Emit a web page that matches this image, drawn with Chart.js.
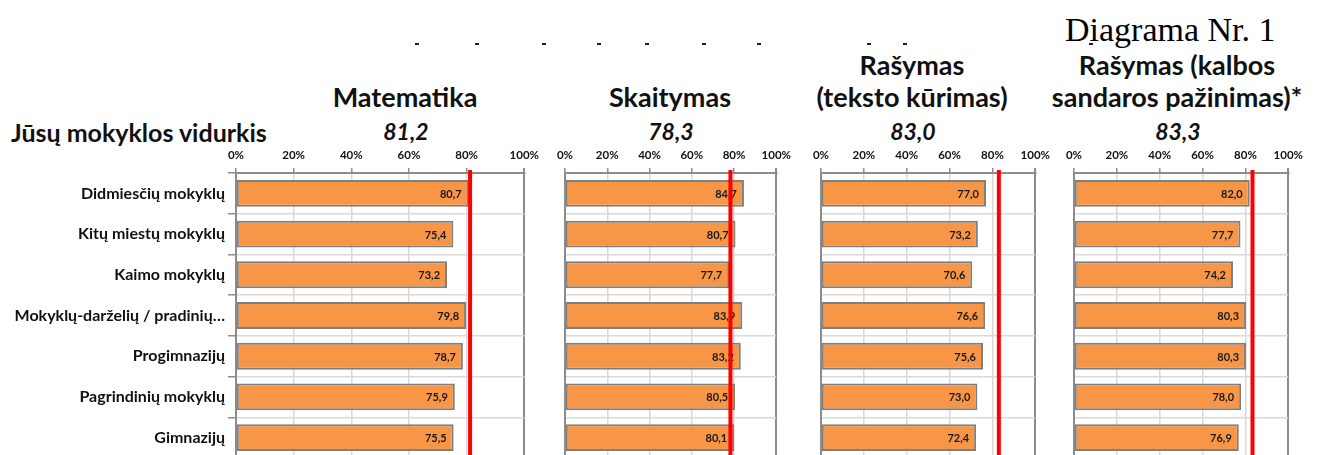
<!DOCTYPE html>
<html>
<head>
<meta charset="utf-8">
<script src="https://cdn.jsdelivr.net/npm/chart.js@4.4.1/dist/chart.umd.min.js"></script>
<style>
  html, body { margin: 0; padding: 0; background: #fff; width: 1320px; height: 455px; overflow: hidden; }
  body { position: relative; font-family: Lato, "Open Sans", sans-serif; color: #111; }
  .t { position: absolute; white-space: nowrap; font-weight: bold; line-height: 1; }
  canvas { position: absolute; }
  .mark { position: absolute; width: 4px; height: 2px; background: #1d1d38; top: 43px; }
</style>
</head>
<body>
<script>
// ---- data ----
const categories = ['Didmiesčių mokyklų', 'Kitų miestų mokyklų', 'Kaimo mokyklų', 'Mokyklų-darželių / pradinių…', 'Progimnazijų', 'Pagrindinių mokyklų', 'Gimnazijų'];
const matematika = [80.7, 75.4, 73.2, 79.8, 78.7, 75.9, 75.5];
const skaitymas = [84.7, 80.7, 77.7, 83.9, 83.2, 80.5, 80.1];
const rasymasTeksto = [77.0, 73.2, 70.6, 76.6, 75.6, 73.0, 72.4];
const rasymasKalbos = [82.0, 77.7, 74.2, 80.3, 80.3, 78.0, 76.9];
const schoolAverages = [81.2, 78.3, 83.0, 83.3];
const subjectTitles = [['Matematika'], ['Skaitymas'], ['Rašymas', '(teksto kūrimas)'], ['Rašymas (kalbos', 'sandaros pažinimas)*']];
const xTickValues = [0, 20, 40, 60, 80, 100];
const rowTitle = 'Jūsų mokyklos vidurkis';
const diagramTitle = 'Diagrama Nr. 1';

const fmt = v => v.toFixed(1).replace('.', ',');

// ---- layout (positions only) ----
const panels = [
  { data: matematika, left: 0,    width: 545, yw: 236, labels: true,  center: 405 },
  { data: skaitymas,  left: 545,  width: 252, yw: 20,  labels: false, center: 670 },
  { data: rasymasTeksto, left: 801, width: 255, yw: 20, labels: false, center: 912 },
  { data: rasymasKalbos, left: 1056, width: 253, yw: 18, labels: false, center: 1177 }
];

function addText(txt, css) {
  const d = document.createElement('div');
  d.className = 't';
  d.textContent = txt;
  Object.assign(d.style, css);
  document.body.appendChild(d);
  return d;
}

// heading texts
addText(diagramTitle, { left: '1065px', top: '13px', fontFamily: '"Liberation Serif", serif', fontWeight: 'normal', fontSize: '34px', color: '#000' });
addText(rowTitle, { left: '11px', top: '120px', fontSize: '25px' });
[415, 475, 542, 597, 645, 702, 757, 867, 903, 1089].forEach(x => {
  const m = document.createElement('div'); m.className = 'mark'; m.style.left = x + 'px'; document.body.appendChild(m);
});

panels.forEach((p, i) => {
  const lines = subjectTitles[i];
  lines.forEach((ln, k) => {
    const top = 83 - (lines.length - 1 - k) * 32;
    addText(ln, { top: top + 'px', fontSize: '27px', left: p.center + 'px', transform: 'translateX(-50%)' });
  });
  addText(fmt(schoolAverages[i]), { top: '120px', fontSize: '23px', fontStyle: 'italic', left: (p.center + 1) + 'px', transform: 'translateX(-50%)' });
});

const overlay = {
  id: 'overlay',
  afterDatasetsDraw(chart, args, opts) {
    const ctx = chart.ctx;
    const meta = chart.getDatasetMeta(0);
    const ds = chart.data.datasets[0].data;
    ctx.save();
    ctx.font = 'bold 11px Lato, sans-serif';
    ctx.fillStyle = '#1a1a1a';
    ctx.textAlign = 'right';
    ctx.textBaseline = 'middle';
    meta.data.forEach((bar, j) => {
      ctx.fillText(fmt(ds[j]), bar.x - 7, bar.y + 1);
    });
    const x = chart.scales.x.getPixelForValue(opts.value);
    ctx.strokeStyle = '#ff0000';
    ctx.lineWidth = 4;
    ctx.beginPath();
    ctx.moveTo(x, chart.chartArea.top - 3);
    ctx.lineTo(x, chart.chartArea.bottom);
    ctx.stroke();
    ctx.restore();
  }
};

panels.forEach((p, i) => {
  const c = document.createElement('canvas');
  c.width = p.width; c.height = 318;
  c.style.left = p.left + 'px'; c.style.top = '140px';
  document.body.appendChild(c);
  new Chart(c, {
    type: 'bar',
    data: {
      labels: categories,
      datasets: [{
        data: p.data,
        backgroundColor: '#F79646',
        borderColor: '#7f7f7f',
        borderWidth: 2,
        borderSkipped: false,
        barPercentage: 0.66,
        categoryPercentage: 1.0
      }]
    },
    options: {
      indexAxis: 'y',
      responsive: false,
      animation: false,
      devicePixelRatio: 1,
      layout: { padding: { left: 0, right: 20, top: 0, bottom: 0 } },
      plugins: { legend: { display: false }, tooltip: { enabled: false }, overlay: { value: schoolAverages[i] } },
      scales: {
        x: {
          position: 'top',
          min: 0, max: 100,
          afterBuildTicks: s => { s.ticks = xTickValues.map(v => ({ value: v })); },
          afterFit: s => { s.height = 33; },
          ticks: { callback: v => v + '%', font: { family: 'Lato', weight: 'bold', size: 11.5 }, color: '#111', padding: 6, maxRotation: 0 },
          grid: {
            color: ctx => (ctx.tick && ctx.tick.value === 100) ? '#8c8c8c' : '#d9d9d9',
            lineWidth: ctx => (ctx.tick && ctx.tick.value === 100) ? 2 : 1.5,
            tickColor: '#8c8c8c', tickLength: 5
          },
          border: { color: '#8c8c8c', width: 2 }
        },
        y: {
          afterFit: s => { s.width = p.yw; s.paddingTop = 0; s.paddingBottom = 0; },
          ticks: { display: p.labels, autoSkip: false, font: { family: 'Lato', weight: 'bold', size: 16 }, color: '#111', padding: 3 },
          grid: { color: '#d9d9d9', lineWidth: 1.5, tickColor: '#8c8c8c', tickLength: p.labels ? 8 : 0, drawTicks: p.labels },
          border: { color: '#8c8c8c', width: 2 }
        }
      }
    },
    plugins: [overlay]
  });
});
</script>
</body>
</html>
